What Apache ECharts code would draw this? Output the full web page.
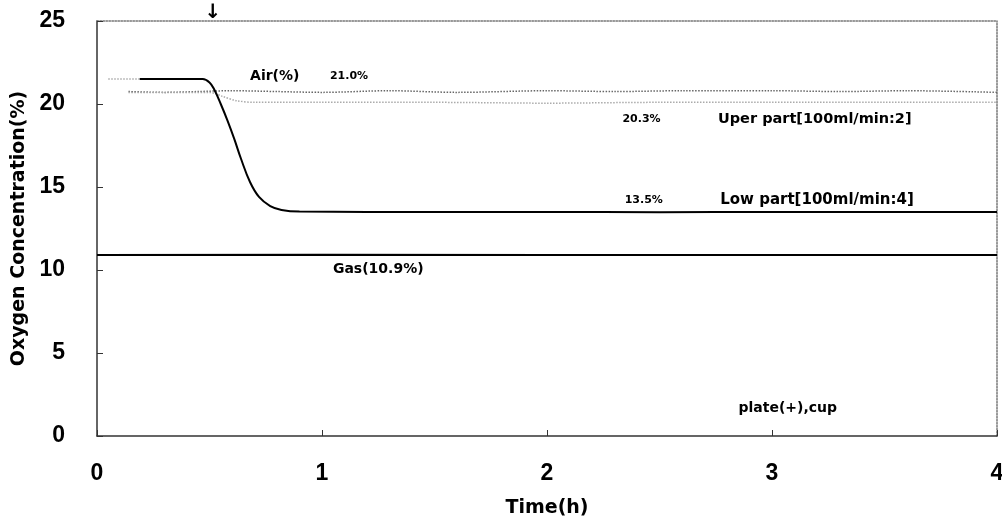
<!DOCTYPE html>
<html><head><meta charset="utf-8">
<script src="https://cdn.jsdelivr.net/npm/echarts@6/dist/echarts.min.js"></script>
<style>html,body{margin:0;padding:0;background:#fff}#c{width:1002px;height:522px}</style>
</head><body><div id="c"></div>
<script>
const xTicks = [0, 1, 2, 3, 4];
const yTicks = [0, 5, 10, 15, 20, 25];
const lowPartPre = [[0.05, 21.5], [0.19, 21.5]];
const lowPart = [[0.19, 21.5], [0.3, 21.5], [0.4, 21.5], [0.47, 21.5], [0.5, 21.3], [0.52, 20.9], [0.55, 20.0],
  [0.58, 19.0], [0.61, 17.9], [0.64, 16.7], [0.68, 15.3], [0.72, 14.4], [0.77, 13.85], [0.82, 13.62],
  [0.9, 13.52], [1.2, 13.5], [2.0, 13.5], [2.5, 13.48], [3.0, 13.5], [3.5, 13.5], [4.0, 13.5]];
const air = [[0.14, 20.75], [0.3, 20.7], [0.45, 20.75], [0.6, 20.8], [0.8, 20.75], [1.0, 20.7], [1.3, 20.8],
  [1.6, 20.7], [2.0, 20.8], [2.3, 20.75], [2.6, 20.8], [3.0, 20.8], [3.3, 20.75], [3.6, 20.8], [4.0, 20.7]];
const upperPart = [[0.14, 20.7], [0.3, 20.7], [0.5, 20.7], [0.56, 20.45], [0.62, 20.2], [0.7, 20.1], [1.0, 20.1],
  [1.5, 20.1], [2.0, 20.05], [2.5, 20.1], [3.0, 20.1], [3.5, 20.1], [4.0, 20.1]];
const gas = [[0, 10.9], [1, 10.92], [2, 10.9], [3, 10.9], [4, 10.9]];

const chart = echarts.init(document.getElementById('c'));
const FONT = 'Liberation Sans';
const DJ = 'DejaVu Sans';
chart.setOption({
  animation: false,
  backgroundColor: '#fff',
  grid: { left: 97, right: 5, top: 21, bottom: 86, outerBoundsMode: 'none', containLabel: false },
  xAxis: [{
    type: 'value', min: 0, max: 4, interval: 1,
    name: 'Time(h)', nameLocation: 'middle', nameGap: 63,
    nameTextStyle: { fontFamily: DJ, fontSize: 19, fontWeight: 'bold', color: '#000' },
    axisLine: { onZero: false, lineStyle: { color: '#333', width: 1.5 } },
    axisTick: { inside: true, length: 6, lineStyle: { color: '#333' } },
    axisLabel: { fontFamily: FONT, fontSize: 23, fontWeight: 'bold', color: '#000', margin: 26 },
    splitLine: { show: false }
  }, {
    type: 'value', min: 0, max: 4, position: 'top',
    axisLine: { show: true, onZero: false, lineStyle: { color: '#777', type: 'dotted', width: 1.5 } },
    axisTick: { show: false }, axisLabel: { show: false }, splitLine: { show: false }
  }],
  yAxis: [{
    type: 'value', min: 0, max: 25, interval: 5,
    name: 'Oxygen Concentration(%)', nameLocation: 'middle', nameGap: 67,
    nameTextStyle: { fontFamily: DJ, fontSize: 19, fontWeight: 'bold', color: '#000' },
    axisLine: { show: true, onZero: false, lineStyle: { color: '#333', width: 1.5 } },
    axisTick: { inside: true, length: 6, lineStyle: { color: '#333' } },
    axisLabel: { fontFamily: FONT, fontSize: 23, fontWeight: 'bold', color: '#000', margin: 32 },
    splitLine: { show: false }
  }, {
    type: 'value', min: 0, max: 25, position: 'right',
    axisLine: { show: true, onZero: false, lineStyle: { color: '#777', type: 'dotted', width: 1.5 } },
    axisTick: { show: false }, axisLabel: { show: false }, splitLine: { show: false }
  }],
  series: [
    { name: 'Gas', type: 'line', data: gas, symbol: 'none', lineStyle: { color: '#000', width: 2 } },
    { name: 'Air', type: 'line', data: air, symbol: 'none', smooth: 0.3, lineStyle: { color: '#666', width: 1.5, type: 'dotted' } },
    { name: 'Upper', type: 'line', data: upperPart, symbol: 'none', smooth: 0.3, lineStyle: { color: '#aaa', width: 1.5, type: 'dotted' } },
    { name: 'LowPre', type: 'line', data: lowPartPre, symbol: 'none', lineStyle: { color: '#aaa', width: 1.5, type: 'dotted' } },
    { name: 'Low', type: 'line', data: lowPart, symbol: 'none', smooth: 0.4, lineStyle: { color: '#000', width: 2 } }
  ]
});

function txt(x, y, t, size, fam) {
  const p = chart.convertToPixel({ gridIndex: 0 }, [x, y]);
  return { type: 'text', x: p[0], y: p[1], style: { text: t, fontFamily: fam || DJ, fontSize: size, fontWeight: 'bold', fill: '#000', align: 'center', verticalAlign: 'middle' } };
}
chart.setOption({
  graphic: [
    txt(0.515, 25.5, '↓', 20),
    txt(0.79, 21.65, 'Air(%)', 14),
    txt(1.12, 21.65, '21.0%', 11),
    txt(2.42, 19.1, '20.3%', 11),
    txt(3.19, 19.1, 'Uper part[100ml/min:2]', 14.5),
    txt(2.43, 14.2, '13.5%', 11),
    txt(3.2, 14.2, 'Low part[100ml/min:4]', 15),
    txt(1.25, 10.05, 'Gas(10.9%)', 14),
    txt(3.07, 1.65, 'plate(+),cup', 14)
  ]
});
</script></body></html>
